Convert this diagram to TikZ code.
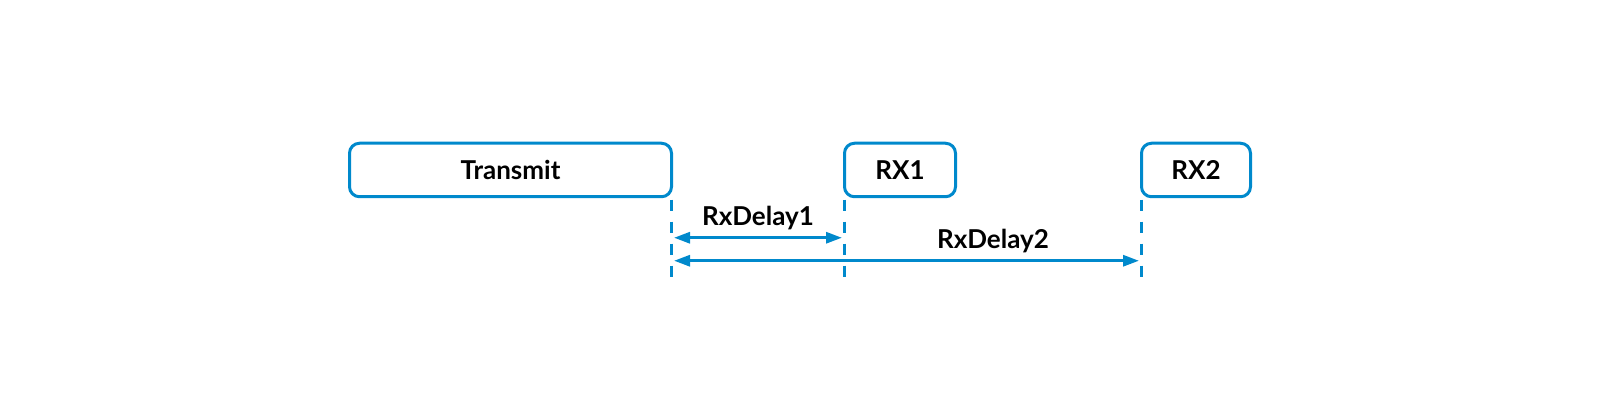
\documentclass[tikz,border=0pt]{standalone}
\usepackage{fontspec}
\setmainfont{Lato}
\usepackage{tikz}
\usetikzlibrary{arrows.meta}
\definecolor{lorablue}{RGB}{0,137,204}
\tikzstyle{window} = [draw=lorablue, line width=0.06cm, rounded corners=0.2cm,
  outer sep=0pt, minimum height=1.07cm]
\tikzstyle{guide} = [draw=lorablue, line width=0.06cm, dash pattern=on 0.22cm off 0.22cm]
\tikzstyle{delay} = [draw=lorablue, line width=0.06cm,
  {Triangle[length=0.32cm,width=0.22cm]}-{Triangle[length=0.32cm,width=0.22cm]},
  shorten <=0.05cm, shorten >=0.05cm]

\begin{document}
\begin{tikzpicture}[every node/.style = {font=\fontsize{14.8}{17}\selectfont\bfseries,
    inner sep=0pt, align=center}]
  \useasboundingbox (0,0) rectangle (32,8.4);
  \node[window, minimum width=6.44cm] (tx) at (10.21,5.0) {Transmit};
  \node[window, minimum width=2.22cm] (rx1) at (18.0,5.0) {RX1};
  \node[window, minimum width=2.18cm] (rx2) at (23.92,5.0) {RX2};
  % guides under the windows
  \draw[guide] ([yshift=-0.06cm]tx.south east) -- ([yshift=-1.6cm]tx.south east);
  \draw[guide] ([yshift=-0.06cm]rx1.south west) -- ([yshift=-1.6cm]rx1.south west);
  \draw[guide] ([yshift=-0.06cm]rx2.south west) -- ([yshift=-1.6cm]rx2.south west);
  % delays
  \draw[delay] ([yshift=-0.82cm]tx.south east) -- ([yshift=-0.82cm]rx1.south west)
    node[midway, above=0.12cm] (d1) {RxDelay1};
  \draw[delay] ([yshift=-1.28cm]tx.south east) -- ([yshift=-1.28cm]rx2.south west)
    node[pos=0.684, above=0.12cm] (d2) {RxDelay2};
\end{tikzpicture}
\end{document}
